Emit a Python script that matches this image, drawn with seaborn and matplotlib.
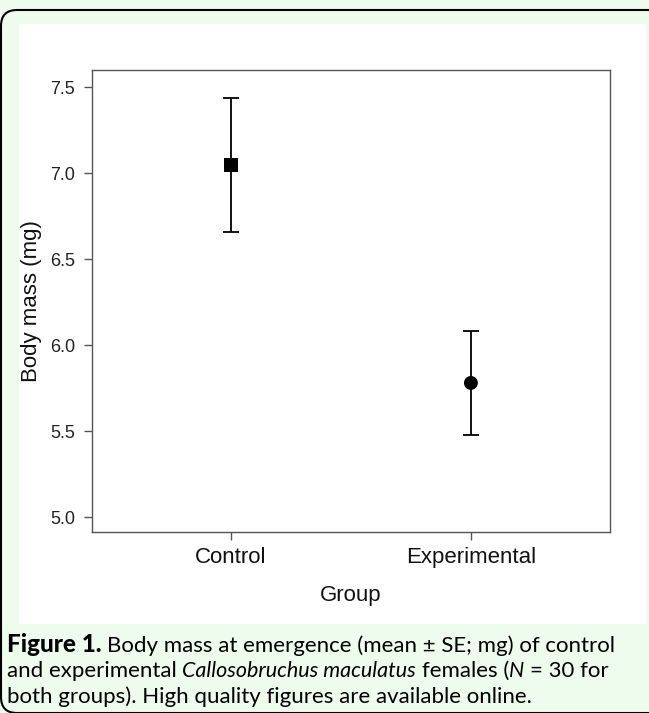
import matplotlib
matplotlib.use("Agg")
import matplotlib.pyplot as plt
import seaborn as sns
import pandas as pd
from matplotlib.patches import FancyBboxPatch, Rectangle

# data (mean +/- SE, mg)
groups = ['Control', 'Experimental']
means = [7.05, 5.78]
se = [0.39, 0.30]
markers = ['s', 'o']
yticks = [5.0, 5.5, 6.0, 6.5, 7.0, 7.5]

sns.set_style('ticks')
plt.rcParams['font.family'] = ['Liberation Sans', 'DejaVu Sans']

W, H = 649, 713
fig = plt.figure(figsize=(W / 100, H / 100), dpi=100)
fig.patch.set_facecolor('#eefcee')

# white panel + rounded frame (behind the axes)
fig.patches.append(Rectangle((19 / W, 89 / H), 627 / W, 600 / H, transform=fig.transFigure,
                             facecolor='white', edgecolor='none', zorder=-2))
fig.patches.append(FancyBboxPatch((1, 0), 700, 703, boxstyle='round,pad=0,rounding_size=16',
                                  transform=None, fill=False, edgecolor='black', lw=1.5, zorder=-1))

ax = fig.add_axes([92 / W, 181 / H, 518 / W, 462 / H])
ax.patch.set_alpha(0)
df = pd.DataFrame({'group': groups, 'mass': means, 'se': se})
sns.scatterplot(data=df, x='group', y='mass', style='group', markers=dict(zip(groups, markers)),
                s=100, color='black', edgecolor='black', linewidth=0, legend=False, ax=ax, zorder=3)
ax.errorbar(range(len(groups)), df['mass'], yerr=df['se'], fmt='none', ecolor='black',
            elinewidth=1.3, capsize=6, capthick=1.3, zorder=2)

ax.set_xlim(-0.58, 1.58)
ax.set_ylim(4.913, 7.6)
ax.set_yticks(yticks)
ax.set_yticklabels([f'{v:.1f}' for v in yticks])
for s in ax.spines.values():
    s.set_visible(True)
    s.set_color('#555555')
    s.set_linewidth(1.0)
ax.tick_params(axis='both', direction='out', length=6, width=1, color='#555555')
ax.tick_params(axis='y', labelsize=13, pad=6, labelcolor='#222222')
ax.tick_params(axis='x', labelsize=16, pad=5, labelcolor='#111111')

ax.set_xlabel('Group', fontsize=16, color='#111111')
ax.set_ylabel('Body mass (mg)', fontsize=16, color='#111111')
ax.xaxis.set_label_coords(0.5, -0.115)
ax.yaxis.set_label_coords(-0.097, 0.5)

# caption with mixed styles
renderer = fig.canvas.get_renderer()
cap = dict(family=['Lato', 'DejaVu Sans'], fontsize=16, color='black')
space_w = None


def write_line(parts, x, y):
    global space_w
    if space_w is None:
        a = fig.text(0, 0, 'a a', **cap)
        b = fig.text(0, 0, 'aa', **cap)
        space_w = a.get_window_extent(renderer).width - b.get_window_extent(renderer).width
        a.remove()
        b.remove()
    for txt, style, gap in parts:
        if gap:
            x += space_w
        kw = dict(cap)
        if style == 'b':
            kw['fontweight'] = 'black'
            kw['fontsize'] = 17.5
        elif style == 'i':
            kw['fontstyle'] = 'italic'
            kw['fontsize'] = 15.5
        t = fig.text(x / W, y / H, txt, va='baseline', ha='left', **kw)
        x += t.get_window_extent(renderer).width


write_line([('Figure 1.', 'b', False),
            ('Body mass at emergence (mean ± SE; mg) of control', 'n', True)], 7, H - 652)
write_line([('and experimental', 'n', False), ('Callosobruchus maculatus', 'i', True),
            ('females (', 'n', True), ('N', 'i', False), ('= 30 for', 'n', True)], 7, H - 677)
write_line([('both groups). High quality figures are available online.', 'n', False)], 7, H - 703)

fig.savefig('out.png', dpi=100, facecolor=fig.get_facecolor())
